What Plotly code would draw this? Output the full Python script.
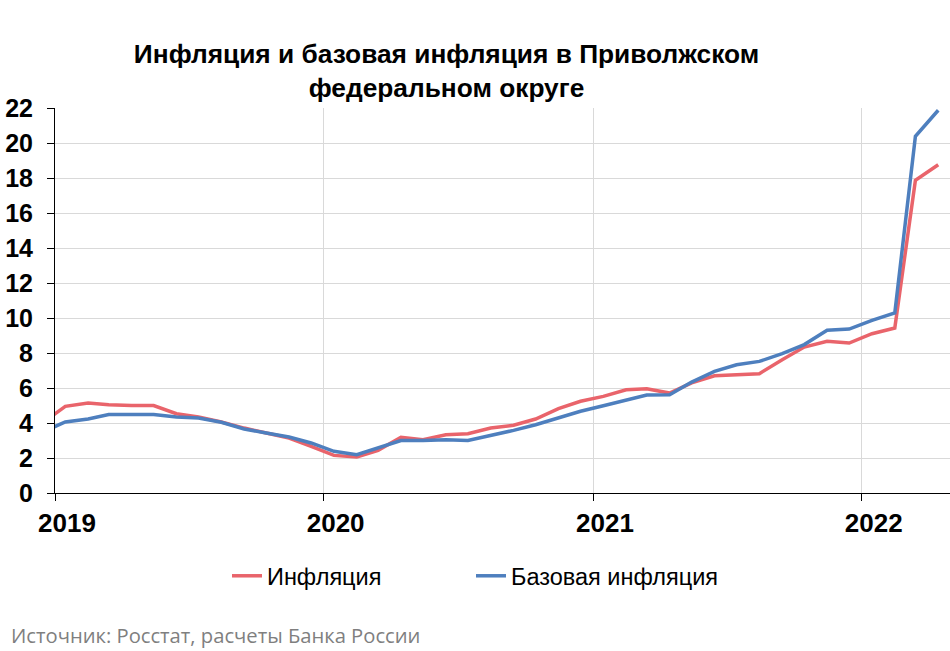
import pandas as pd
import plotly.graph_objects as go

# Месяцы: декабрь 2018 - апрель 2022 (точки в середине месяца)
months = pd.date_range("2018-12-01", "2022-04-01", freq="MS") + pd.Timedelta(days=14)

inflation = [4.0, 4.95, 5.14, 5.05, 5.0, 5.0, 4.53, 4.34, 4.06, 3.71, 3.43, 3.14, 2.67,
             2.15, 2.06, 2.44, 3.18, 3.05, 3.33, 3.39, 3.71, 3.87, 4.23, 4.82, 5.24,
             5.52, 5.9, 5.96, 5.71, 6.29, 6.7, 6.76, 6.82, 7.62, 8.34, 8.67, 8.57,
             9.1, 9.43, 17.87, 18.76]
core_inflation = [3.48, 4.06, 4.23, 4.48, 4.48, 4.48, 4.34, 4.29, 4.04, 3.66, 3.43, 3.2, 2.86,
                  2.38, 2.19, 2.57, 3.0, 3.0, 3.05, 3.0, 3.28, 3.58, 3.9, 4.29, 4.67,
                  4.99, 5.33, 5.6, 5.62, 6.34, 6.95, 7.33, 7.52, 7.96, 8.48, 9.3, 9.37,
                  9.87, 10.29, 20.38, 21.87]

year_ticks = pd.to_datetime(["2019-01-01", "2020-01-01", "2021-01-01", "2022-01-01"])
year_labels = ["2019", "2020", "2021", "2022"]
y_ticks = list(range(0, 23, 2))

FONT = "Liberation Sans, Arial, sans-serif"

fig = go.Figure()
fig.add_trace(go.Scatter(
    x=months, y=inflation, mode="lines", name="Инфляция",
    line=dict(color="#E9646B", width=3.5), legend="legend",
))
fig.add_trace(go.Scatter(
    x=months, y=core_inflation, mode="lines", name="Базовая инфляция",
    line=dict(color="#4E7FBE", width=3.5), legend="legend2",
))

legend_style = dict(
    orientation="h", xanchor="left", y=-0.2156, yanchor="middle",
    font=dict(size=23.5, color="black", family=FONT),
    bgcolor="rgba(0,0,0,0)",
)

fig.update_layout(
    width=950, height=651,
    margin=dict(l=55, r=0, t=108, b=158),
    paper_bgcolor="white", plot_bgcolor="white",
    font=dict(family=FONT, color="black"),
    title=dict(
        text="<b>Инфляция и базовая инфляция в Приволжском<br>федеральном округе</b>",
        x=0.47, xanchor="center", xref="container",
        y=1 - 63 / 651, yanchor="top", yref="container",
        font=dict(size=26.3, color="black"),
    ),
    showlegend=True,
    legend=dict(x=(227 - 55) / 895, **legend_style),
    legend2=dict(x=(471 - 55) / 895, **legend_style),
    xaxis=dict(
        range=[pd.Timestamp("2019-01-01"), pd.Timestamp("2022-05-01")],
        tickvals=year_ticks, ticktext=["<b>%s</b>" % t for t in year_labels],
        ticks="outside", ticklen=7, tickcolor="black",
        showline=True, linecolor="black", linewidth=1,
        showgrid=True, gridcolor="#D9D9D9", gridwidth=1,
        tickfont=dict(size=26, color="black", family=FONT),
        ticklabelshift=12,
    ),
    yaxis=dict(
        range=[0, 22], tickvals=y_ticks, ticktext=["<b>%d</b>" % v for v in y_ticks],
        ticks="outside", ticklen=7, tickcolor="black",
        showline=True, linecolor="black", linewidth=1,
        showgrid=True, gridcolor="#D9D9D9", gridwidth=1,
        zeroline=False, ticklabelstandoff=9,
        tickfont=dict(size=25, color="black", family=FONT),
    ),
)

fig.add_annotation(
    text="Источник: Росстат, расчеты Банка России",
    xref="paper", yref="paper", x=(9 - 55) / 895, y=(493 - 635) / 385,
    xanchor="left", yanchor="middle", showarrow=False,
    font=dict(family="Open Sans, sans-serif", size=20.2, color="#7F7F7F"),
)

fig.write_html("out.html", config={"displayModeBar": False},
               post_script="document.body.style.margin='0px';")
